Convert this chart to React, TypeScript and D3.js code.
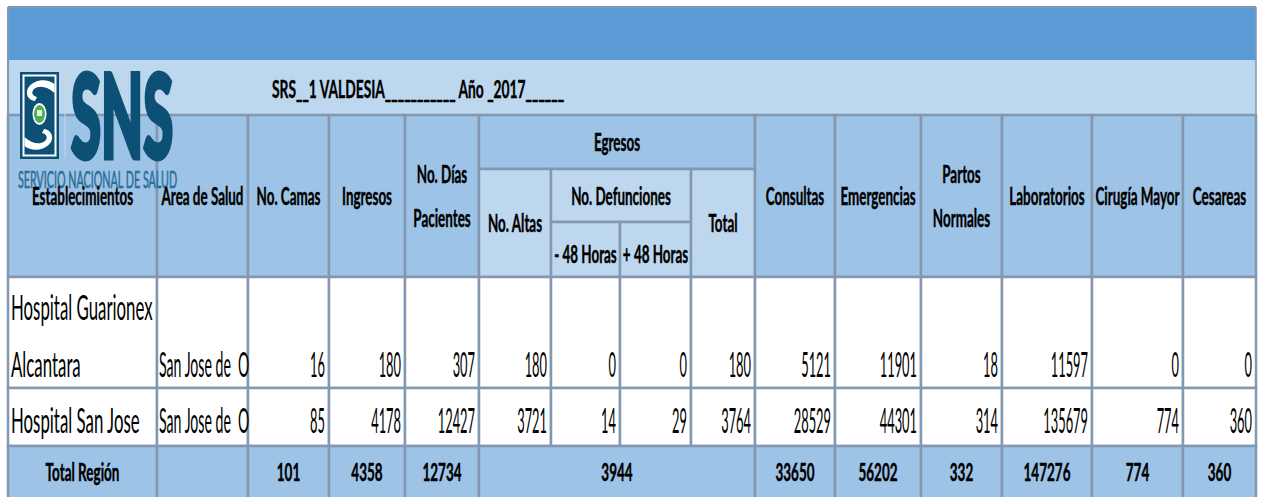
import React from "react";
import * as d3 from "d3";

// ---------- DATA ----------
const titleText = "SRS__1 VALDESIA___________ Año _2017______";
const establecimientos = [["Hospital Guarionex", "Alcantara"], ["Hospital San Jose"]];
const areasSalud = ["San Jose de  O", "San Jose de  O"];
const noCamas = [16, 85];
const ingresos = [180, 4178];
const diasPacientes = [307, 12427];
const noAltas = [180, 3721];
const defMenos48 = [0, 14];
const defMas48 = [0, 29];
const egresosTotal = [180, 3764];
const consultas = [5121, 28529];
const emergencias = [11901, 44301];
const partosNormales = [18, 314];
const laboratorios = [11597, 135679];
const cirugiaMayor = [0, 774];
const cesareas = [0, 360];
const totalLabel = "Total Región";
const totalValues = [101, 4358, 12734, 3944, 33650, 56202, 332, 147276, 774, 360];

const bodyColumns = [noCamas, ingresos, diasPacientes, noAltas, defMenos48, defMas48, egresosTotal, consultas, emergencias, partosNormales, laboratorios, cirugiaMayor, cesareas];

// ---------- LAYOUT ----------
const W = 1261, H = 497;
const x0 = 8;
const colWidths = [149, 91, 81, 76, 74, 72, 69, 71, 64, 80, 86, 81, 90, 91, 73];
const xEdges = [x0, ...Array.from(d3.cumsum(colWidths), (v) => x0 + v)];
const y0 = 115;
const rowHeights = [54, 53, 55, 111, 58, 56];
const yEdges = [y0, ...Array.from(d3.cumsum(rowHeights), (v) => y0 + v)];

const C_TOP = "#5b9bd5";
const C_LIGHT = "#bdd7ee";
const C_MED = "#9dc3e6";
const C_GRID = "#8497b0";
const FONT = "Lato, 'Open Sans', sans-serif";

const HS = 25, HK = 0.537, HCAP = 18; // header
const BS = 34, BK = 0.495, DK = 0.378, ASK = 0.415; // body
const TS = 25, TK = 0.54; // total

type HeaderCell = { c: number; cs: number; r: number; rs: number; lines: string[]; fill: string; dy?: number };
const headerCells: HeaderCell[] = [
  { c: 0, cs: 1, r: 0, rs: 3, lines: ["Establecimientos"], fill: C_MED },
  { c: 1, cs: 1, r: 0, rs: 3, lines: ["Area de Salud"], fill: C_MED },
  { c: 2, cs: 1, r: 0, rs: 3, lines: ["No. Camas"], fill: C_MED },
  { c: 3, cs: 1, r: 0, rs: 3, lines: ["Ingresos"], fill: C_MED },
  { c: 4, cs: 1, r: 0, rs: 3, lines: ["No. Días", "Pacientes"], fill: C_MED },
  { c: 5, cs: 4, r: 0, rs: 1, lines: ["Egresos"], fill: C_MED },
  { c: 5, cs: 1, r: 1, rs: 2, lines: ["No. Altas"], fill: C_LIGHT },
  { c: 6, cs: 2, r: 1, rs: 1, lines: ["No. Defunciones"], fill: C_LIGHT },
  { c: 6, cs: 1, r: 2, rs: 1, lines: ["- 48 Horas"], fill: C_LIGHT, dy: 4 },
  { c: 7, cs: 1, r: 2, rs: 1, lines: ["+ 48 Horas"], fill: C_LIGHT, dy: 4 },
  { c: 8, cs: 1, r: 1, rs: 2, lines: ["Total"], fill: C_LIGHT },
  { c: 9, cs: 1, r: 0, rs: 3, lines: ["Consultas"], fill: C_MED },
  { c: 10, cs: 1, r: 0, rs: 3, lines: ["Emergencias"], fill: C_MED },
  { c: 11, cs: 1, r: 0, rs: 3, lines: ["Partos", "Normales"], fill: C_MED },
  { c: 12, cs: 1, r: 0, rs: 3, lines: ["Laboratorios"], fill: C_MED },
  { c: 13, cs: 1, r: 0, rs: 3, lines: ["Cirugía Mayor"], fill: C_MED },
  { c: 14, cs: 1, r: 0, rs: 3, lines: ["Cesareas"], fill: C_MED },
];

// total row spans: [startCol, span]
const totalSpans: [number, number][] = [[2, 1], [3, 1], [4, 1], [5, 4], [9, 1], [10, 1], [11, 1], [12, 1], [13, 1], [14, 1]];

const fmt = d3.format("d");

function ST(props: { x: number; y: number; sx: number; size: number; weight?: number | string; anchor?: string; fill?: string; stroke?: string; sw?: number; children: React.ReactNode; }) {
  const { x, y, sx, size, weight = 400, anchor = "start", fill = "#000", stroke, sw, children } = props;
  return (
    <text transform={`translate(${x},${y}) scale(${sx},1)`} fontSize={size} fontWeight={weight} textAnchor={anchor} fill={fill} stroke={stroke} strokeWidth={sw} fontFamily={FONT} style={{ whiteSpace: "pre" }}>
      {children}
    </text>
  );
}

function Logo() {
  const teal = "#0d5075";
  return (
    <g>
      <line x1={65} y1={72} x2={65} y2={158} stroke="#c9d6e2" strokeWidth={1} />
      <rect x={20} y={72} width={39} height={87} fill={teal} />
      <rect x={22.5} y={74.5} width={34} height={82} fill="#ffffff" />
      <rect x={24.5} y={76.5} width={30} height={78} fill={teal} />
      <path d="M54.5,84 C47,78 34,79 28,88 C25,94 28,100 35,101 L37,97 C32,96 31,92 34,89 C39,85 47,86 54.5,93 Z" fill="#ffffff" />
      <path d="M24.5,146 C32,152 45,151 51,142 C54,136 51,130 44,129 L42,133 C47,134 48,138 45,141 C40,145 32,144 24.5,137 Z" fill="#ffffff" />
      <ellipse cx={39.5} cy={114} rx={7} ry={11} fill="#ffffff" />
      <ellipse cx={39.5} cy={114} rx={5.5} ry={9} fill="#4caf50" />
      <rect x={37} y={110} width={5} height={6} fill="#e8f5e9" />
      <ST x={71} y={158} sx={0.47} size={116} weight={900} fill={teal} stroke={teal} sw={5}>SNS</ST>
      <ST x={18} y={188} sx={0.467} size={23} weight={400} fill="#2a6d98" stroke="#2a6d98" sw={0.6}>SERVICIO NACIONAL DE SALUD</ST>
    </g>
  );
}

export default function App() {
  const cx = (c: number, cs: number) => (xEdges[c] + xEdges[c + cs]) / 2;
  const cy = (r: number, rs: number) => (yEdges[r] + yEdges[r + rs]) / 2;

  return (
    <svg width={W} height={H} style={{ position: "absolute", left: 0, top: 0, background: "#fff" }}>
      {/* top bands */}
      <rect x={x0} y={7} width={xEdges[15] - x0} height={53} fill={C_TOP} />
      <rect x={x0} y={60} width={xEdges[15] - x0} height={55} fill={C_LIGHT} />
      <line x1={x0} y1={7} x2={xEdges[15]} y2={7} stroke={C_GRID} strokeWidth={2} />
      <line x1={x0} y1={7} x2={x0} y2={y0} stroke={C_GRID} strokeWidth={2} />
      <line x1={xEdges[15]} y1={7} x2={xEdges[15]} y2={y0} stroke={C_GRID} strokeWidth={1.5} />
      <ST x={272} y={98} sx={0.575} size={24} weight={700} stroke="#000" sw={0.4}>{titleText}</ST>

      {/* header cells */}
      {headerCells.map((h, i) => (
        <rect key={"hc" + i} x={xEdges[h.c]} y={yEdges[h.r]} width={xEdges[h.c + h.cs] - xEdges[h.c]} height={yEdges[h.r + h.rs] - yEdges[h.r]} fill={h.fill} stroke={C_GRID} strokeWidth={2.5} />
      ))}

      {/* body cells */}
      {[0, 1].map((ri) =>
        d3.range(15).map((c) => (
          <rect key={`b${ri}-${c}`} x={xEdges[c]} y={yEdges[3 + ri]} width={xEdges[c + 1] - xEdges[c]} height={yEdges[4 + ri] - yEdges[3 + ri]} fill="#fff" stroke={C_GRID} strokeWidth={2.5} />
        ))
      )}

      {/* total row cells */}
      {[[0, 1] as [number, number], [1, 1] as [number, number], ...totalSpans].map(([c, cs], i) => (
        <rect key={"t" + i} x={xEdges[c]} y={yEdges[5]} width={xEdges[c + cs] - xEdges[c]} height={yEdges[6] - yEdges[5]} fill={C_MED} stroke={C_GRID} strokeWidth={2.5} />
      ))}

      <Logo />

      {/* header text */}
      {headerCells.map((h, i) => {
        const mid = cy(h.r, h.rs) + HCAP / 2 + (h.dy || 0);
        const x = cx(h.c, h.cs);
        if (h.lines.length === 1) {
          return <ST key={"ht" + i} x={x} y={mid} sx={HK} size={HS} weight={700} anchor="middle" stroke="#000" sw={0.45}>{h.lines[0]}</ST>;
        }
        return (
          <g key={"ht" + i}>
            <ST x={x} y={mid - 22} sx={HK} size={HS} weight={700} anchor="middle" stroke="#000" sw={0.45}>{h.lines[0]}</ST>
            <ST x={x} y={mid + 22} sx={HK} size={HS} weight={700} anchor="middle" stroke="#000" sw={0.45}>{h.lines[1]}</ST>
          </g>
        );
      })}

      {/* body text */}
      {[0, 1].map((ri) => {
        const base = yEdges[4 + ri] - (ri === 0 ? 11 : 13);
        const lines = establecimientos[ri];
        return (
          <g key={"bt" + ri}>
            {lines.map((ln, li) => (
              <ST key={li} x={xEdges[0] + 3} y={base - (lines.length - 1 - li) * 57} sx={BK} size={BS}>{ln}</ST>
            ))}
            <ST x={xEdges[1] + 2} y={base} sx={ASK} size={BS}>{areasSalud[ri]}</ST>
            {bodyColumns.map((col, ci) => (
              <ST key={ci} x={xEdges[ci + 3] - 4} y={base} sx={DK} size={BS} anchor="end">{fmt(col[ri])}</ST>
            ))}
          </g>
        );
      })}

      {/* total text */}
      <ST x={cx(0, 1)} y={yEdges[5] + 35} sx={TK} size={TS} weight={700} anchor="middle" stroke="#000" sw={0.45}>{totalLabel}</ST>
      {totalSpans.map(([c, cs], i) => (
        <ST key={"tt" + i} x={cx(c, cs)} y={yEdges[5] + 35} sx={TK} size={TS} weight={700} anchor="middle" stroke="#000" sw={0.45}>{fmt(totalValues[i])}</ST>
      ))}
    </svg>
  );
}
